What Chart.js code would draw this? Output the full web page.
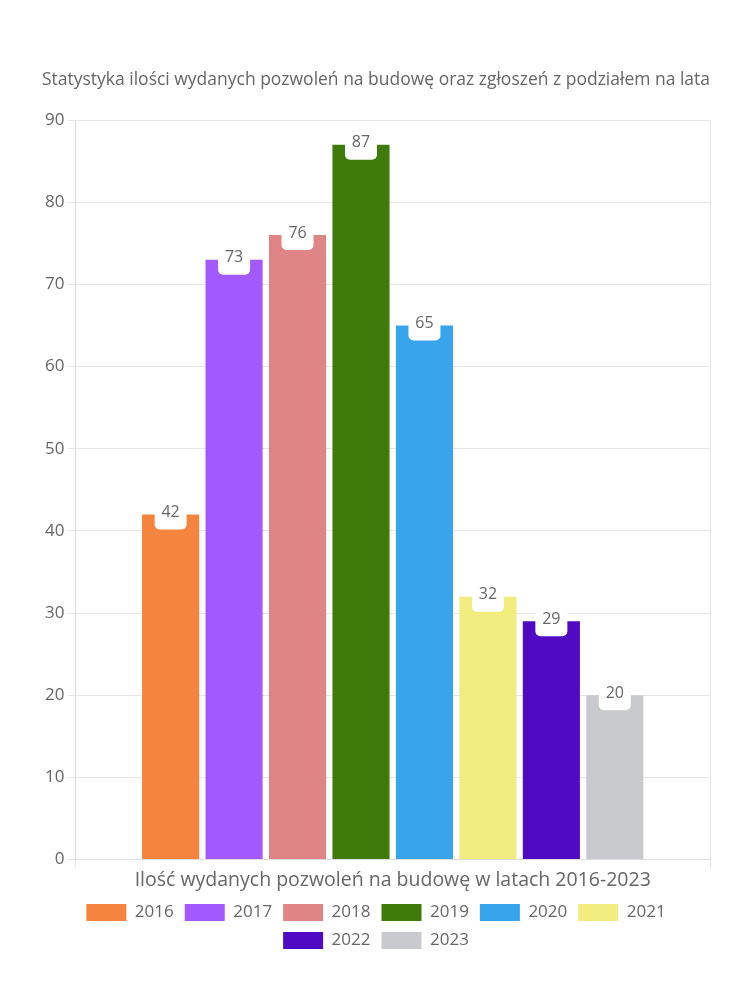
<!DOCTYPE html>
<html><head><meta charset="utf-8">
<script src="https://cdn.jsdelivr.net/npm/chart.js@4/dist/chart.umd.min.js"></script>
<style>html,body{margin:0;padding:0;background:#fff}#wrap{width:750px;height:1000px}</style>
</head><body><div id="wrap"><canvas id="c" width="750" height="1000"></canvas></div>
<script>
const categories = ["Ilość wydanych pozwoleń na budowę w latach 2016-2023"];
const years = ["2016","2017","2018","2019","2020","2021","2022","2023"];
const values = [42,73,76,87,65,32,29,20];
const colors = ["#F5843F","#A259FF","#E08585","#3E7B0B","#38A4EB","#F0EC7E","#510AC3","#C9CACD"];
const titleText = "Statystyka ilości wydanych pozwoleń na budowę oraz zgłoszeń z podziałem na lata";
const FONT = "'Open Sans'";

const labelPlugin = {
  id:'valueLabels',
  afterDatasetsDraw(chart){
    const ctx = chart.ctx;
    chart.data.datasets.forEach((ds,i)=>{
      const meta = chart.getDatasetMeta(i);
      meta.data.forEach((bar,j)=>{
        const v = ds.data[j];
        const w = 32, h = 30, r = 5;
        const x = bar.x - w/2, y = bar.y - 15;
        ctx.save();
        ctx.fillStyle = '#fff';
        ctx.beginPath();
        ctx.roundRect(x,y,w,h,r);
        ctx.fill();
        ctx.fillStyle = '#666';
        ctx.font = '16px ' + FONT;
        ctx.textAlign = 'center';
        ctx.textBaseline = 'middle';
        ctx.fillText(String(v), bar.x, bar.y - 2);
        ctx.restore();
      });
    });
  }
};

new Chart(document.getElementById('c'), {
  type:'bar',
  data:{
    labels: categories,
    datasets: years.map((y,i)=>({label:y,data:[values[i]],backgroundColor:colors[i],borderColor:colors[i],borderWidth:0}))
  },
  options:{
    responsive:false,
    animation:false,
    layout:{padding:{top:70,left:42,right:40,bottom:41}},
    datasets:{bar:{categoryPercentage:0.8,barPercentage:0.9}},
    scales:{
      x:{grid:{color:'#e6e6e6',drawOnChartArea:true,tickLength:8,offset:true},border:{color:'#ddd'},
         ticks:{color:'#666',font:{family:FONT,size:19.5},padding:1}},
      y:{min:0,max:90,ticks:{stepSize:10,color:'#666',font:{family:FONT,size:17},padding:3},
         grid:{color:'#e6e6e6',tickLength:8},border:{color:'#ddd'}}
    },
    plugins:{
      title:{display:true,text:titleText,color:'#666',font:{family:FONT,size:17.5,weight:'normal'},padding:{top:0,bottom:29}},
      legend:{position:'bottom',labels:{color:'#666',font:{family:FONT,size:17},boxWidth:40,boxHeight:17,padding:11}},
      tooltip:{enabled:false}
    }
  },
  plugins:[labelPlugin]
});
</script></body></html>
